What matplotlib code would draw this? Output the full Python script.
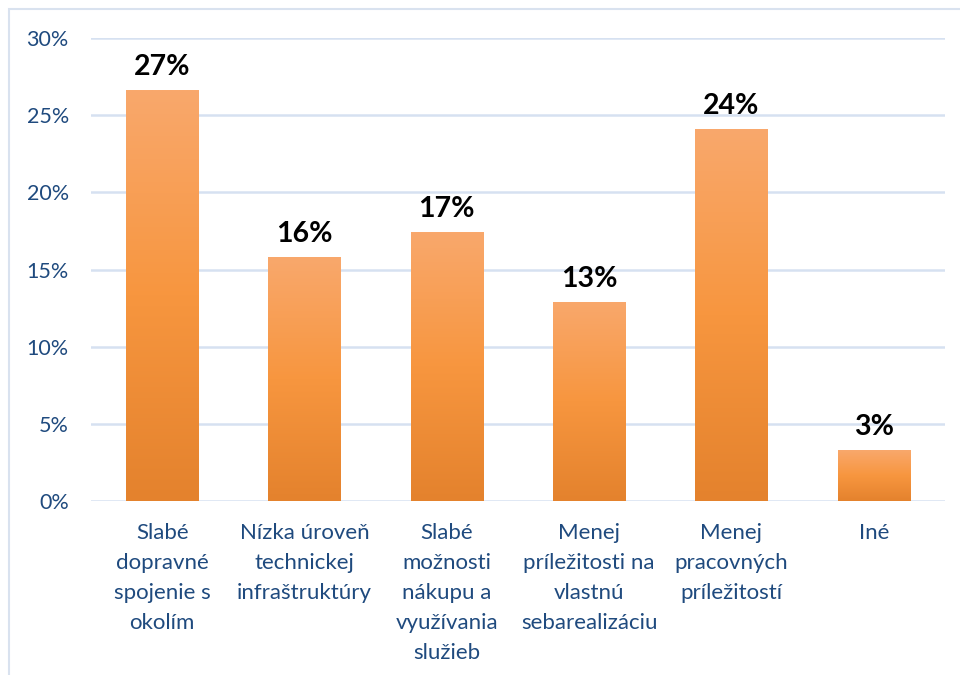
import numpy as np
import matplotlib
matplotlib.use('Agg')
from matplotlib import pyplot as plt
from matplotlib.colors import LinearSegmentedColormap
from matplotlib.patches import Rectangle
from matplotlib.ticker import PercentFormatter

categories = ['Slabé\ndopravné\nspojenie s\nokolím',
              'Nízka úroveň\ntechnickej\ninfraštruktúry',
              'Slabé\nmožnosti\nnákupu a\nvyužívania\nslužieb',
              'Menej\npríležitosti na\nvlastnú\nsebarealizáciu',
              'Menej\npracovných\npríležitostí',
              'Iné']
values = [0.266, 0.158, 0.174, 0.129, 0.241, 0.033]
yticks = [0, 0.05, 0.10, 0.15, 0.20, 0.25, 0.30]

plt.rcParams['font.family'] = ['Lato', 'DejaVu Sans']

fig = plt.figure(figsize=(9.6, 6.75), dpi=100)
ax = fig.add_axes([91 / 960, 1 - 501 / 675, 854 / 960, 463 / 675])

# light outer frame like the excel chart area
fig.patches.append(Rectangle((9 / 960, -0.1), 1.2, 1 - 9 / 675 + 0.1,
                             transform=fig.transFigure, fill=False,
                             edgecolor='#D9E2EF', linewidth=1.5))

x = np.arange(len(categories))
bars = ax.bar(x, values, width=0.506, color='none', zorder=3)

# vertical gradient inside every bar
grad = LinearSegmentedColormap.from_list(
    'bar', ['#E4822D', '#F7963F', '#F9A86C'])
img = np.linspace(0, 1, 256).reshape(-1, 1)
for b in bars:
    x0, y0 = b.get_x(), b.get_y()
    w, h = b.get_width(), b.get_height()
    im = ax.imshow(img, cmap=grad, origin='lower', aspect='auto',
                   extent=[x0, x0 + w, y0, y0 + h], zorder=3)
    im.set_clip_path(b)

for xi, v in zip(x, values):
    ax.text(xi, v + 0.0065, f'{round(v * 100):.0f}%', ha='center', va='bottom',
            fontsize=20.5, fontweight='bold', color='black', zorder=4)

ax.set_xlim(-0.5, len(categories) - 0.5)
ax.set_ylim(0, 0.30)
ax.set_yticks(yticks)
ax.yaxis.set_major_formatter(PercentFormatter(1.0, decimals=0))
ax.set_xticks(x)
ax.set_xticklabels(categories, linespacing=1.62, va='top')

ax.grid(axis='y', color='#D6E1F1', linewidth=1.8, zorder=0)
for s in ax.spines.values():
    s.set_visible(False)
ax.tick_params(axis='both', length=0, labelsize=16, colors='#1F4A7E')
ax.tick_params(axis='y', pad=16, labelsize=15.5)
ax.tick_params(axis='x', pad=16)

fig.savefig('out.png', dpi=100)
